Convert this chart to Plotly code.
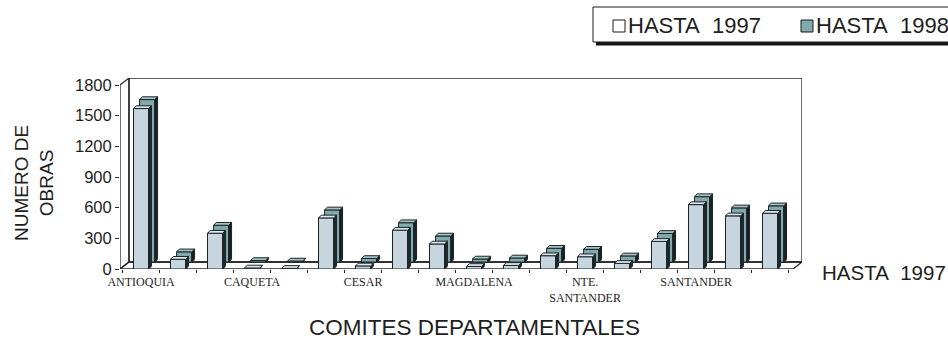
import plotly.graph_objects as go

# Obras por comité departamental (acumulado)
comites = ["ANTIOQUIA", "BOYACA", "CALDAS", "CAQUETA", "CASANARE", "CAUCA",
           "CESAR", "CUNDINAMARCA", "HUILA", "MAGDALENA", "META", "NARIÑO",
           "NTE.<br>SANTANDER", "QUINDIO", "RISARALDA", "SANTANDER", "TOLIMA", "VALLE"]
hasta_1997 = [1570, 95, 350, 10, 6, 500, 30, 380, 245, 25, 35, 130, 120, 55, 270, 630, 520, 545]
hasta_1998 = [1590, 100, 360, 15, 10, 510, 35, 385, 255, 30, 40, 135, 125, 60, 280, 640, 530, 550]
y_ticks = [0, 300, 600, 900, 1200, 1500, 1800]
label_step = 3

W, H = 948, 346
ML, MR, MT, MB = 120, 146, 78, 77

# pseudo-3D geometry (data units)
X_LO, X_HI = -0.57, 17.62          # front plane extent
WALL_DX, WALL_DY = 0.243, 68.5     # depth of the chart box
Y_TOP = 1800
BAR_W = 0.41
BOX_DX, BOX_DY = 0.075, 27         # depth of each column
ROW_DX, ROW_DY = 0.165, 68         # offset of the rear series

EDGE = "#1b2326"
FACE_97, TOP_97, SIDE_97 = "#c6d5de", "#dfe8ee", "#1d2a2d"
FACE_98, TOP_98, SIDE_98 = "#82a9ab", "#a6c4c5", "#162325"
TXT = "#1e1e1e"
SANS = "Liberation Sans, Arial, sans-serif"
SERIF = "Liberation Serif, Times New Roman, serif"

xs = list(range(len(comites)))


def px_x(px):
    return (px - ML) / (W - ML - MR)


def px_y(py):
    return (H - MB - py) / (H - MT - MB)


def column_traces(vals, dx0, dy0, face, top, side, name):
    bar = go.Bar(
        x=[x + dx0 for x in xs], y=vals, base=[dy0] * len(vals), width=BAR_W,
        marker=dict(color=face, line=dict(color=EDGE, width=1)),
        name=name, showlegend=False,
        customdata=[c.replace("<br>", " ") for c in comites],
        hovertemplate="%{customdata}<br>" + name + ": %{y}<extra></extra>",
    )
    sx, sy, tx, ty = [], [], [], []
    for x, v in zip(xs, vals):
        xl = x + dx0 - BAR_W / 2
        xr = x + dx0 + BAR_W / 2
        sx += [xr, xr + BOX_DX, xr + BOX_DX, xr, xr, None]
        sy += [dy0, dy0 + BOX_DY, dy0 + BOX_DY + v, dy0 + v, dy0, None]
        tx += [xl, xr, xr + BOX_DX, xl + BOX_DX, xl, None]
        ty += [dy0 + v, dy0 + v, dy0 + v + BOX_DY, dy0 + v + BOX_DY, dy0 + v, None]
    side_tr = go.Scatter(x=sx, y=sy, mode="lines", fill="toself", fillcolor=side,
                         line=dict(color=EDGE, width=1), hoverinfo="skip", showlegend=False)
    top_tr = go.Scatter(x=tx, y=ty, mode="lines", fill="toself", fillcolor=top,
                        line=dict(color=EDGE, width=1), hoverinfo="skip", showlegend=False)
    return [bar, side_tr, top_tr]


fig = go.Figure()
for tr in column_traces(hasta_1998, ROW_DX, ROW_DY, FACE_98, TOP_98, SIDE_98, "HASTA 1998"):
    fig.add_trace(tr)
for tr in column_traces(hasta_1997, 0, 0, FACE_97, TOP_97, SIDE_97, "HASTA 1997"):
    fig.add_trace(tr)

# chart box: left wall, back wall and floor
frame = dict(color="#262626", width=1.3)
walls = [
    f"M{X_LO},0 L{X_LO},{Y_TOP} L{X_LO + WALL_DX},{Y_TOP + WALL_DY} L{X_LO + WALL_DX},{WALL_DY} Z",
    f"M{X_LO + WALL_DX},{WALL_DY} L{X_LO + WALL_DX},{Y_TOP + WALL_DY} "
    f"L{X_HI + WALL_DX},{Y_TOP + WALL_DY} L{X_HI + WALL_DX},{WALL_DY} Z",
    f"M{X_LO},0 L{X_HI},0 L{X_HI + WALL_DX},{WALL_DY} L{X_LO + WALL_DX},{WALL_DY} Z",
]
shapes = [dict(type="path", path=p, xref="x", yref="y", line=frame,
               fillcolor="rgba(0,0,0,0)", layer="below") for p in walls]

# legend box with drop shadow, running past the right edge
shapes.append(dict(type="rect", xref="paper", yref="paper",
                   x0=px_x(596), x1=px_x(1010), y0=px_y(45.5), y1=px_y(10),
                   fillcolor="#151515", line=dict(width=0)))
shapes.append(dict(type="rect", xref="paper", yref="paper",
                   x0=px_x(593), x1=px_x(1005), y0=px_y(42), y1=px_y(7),
                   fillcolor="white", line=dict(color="#1a1a1a", width=1)))
shapes.append(dict(type="rect", xref="paper", yref="paper",
                   x0=px_x(613), x1=px_x(625), y0=px_y(32), y1=px_y(20),
                   fillcolor="white", line=dict(color="#1a1a1a", width=1)))
shapes.append(dict(type="rect", xref="paper", yref="paper",
                   x0=px_x(801), x1=px_x(813), y0=px_y(32), y1=px_y(20),
                   fillcolor=FACE_98, line=dict(color="#1a1a1a", width=1)))

annotations = [
    dict(text="HASTA\u00a0 1997", xref="paper", yref="paper", x=px_x(626), y=px_y(26),
         xanchor="left", yanchor="middle", showarrow=False, font=dict(family=SANS, size=22, color=TXT)),
    dict(text="HASTA\u00a0 1998", xref="paper", yref="paper", x=px_x(814), y=px_y(26),
         xanchor="left", yanchor="middle", showarrow=False, font=dict(family=SANS, size=22, color=TXT)),
    dict(text="HASTA\u00a0 1997", xref="paper", yref="paper", x=px_x(820), y=px_y(272),
         xanchor="left", yanchor="middle", showarrow=False, font=dict(family=SANS, size=20.5, color=TXT)),
    dict(text="NUMERO DE<br>OBRAS", xref="paper", yref="paper", x=px_x(34), y=px_y(183),
         xanchor="center", yanchor="middle", textangle=-90, showarrow=False,
         font=dict(family=SANS, size=19, color=TXT)),
    dict(text="COMITES DEPARTAMENTALES", xref="paper", yref="paper", x=px_x(474), y=px_y(327),
         xanchor="center", yanchor="middle", showarrow=False, font=dict(family=SANS, size=22.5, color=TXT)),
]

label_idx = xs[::label_step]
fig.update_layout(
    width=W, height=H,
    margin=dict(l=ML, r=MR, t=MT, b=MB, pad=0),
    paper_bgcolor="white", plot_bgcolor="white",
    barmode="overlay", showlegend=False,
    shapes=shapes, annotations=annotations,
    xaxis=dict(range=[X_LO, X_HI + WALL_DX], showgrid=False, zeroline=False, showline=False,
               tickmode="array", tickvals=label_idx, ticktext=[comites[i] for i in label_idx],
               ticks="", ticklabelstandoff=4, automargin=False,
               tickfont=dict(family=SERIF, size=12, color=TXT),
               minor=dict(tick0=-0.5, dtick=1, ticks="outside", ticklen=3,
                          tickcolor="#2a2a2a", showgrid=False)),
    yaxis=dict(range=[0, Y_TOP + WALL_DY + 0.5], showgrid=False, zeroline=False, showline=False,
               tickmode="array", tickvals=y_ticks, ticks="outside", ticklen=4,
               tickcolor="#2a2a2a", automargin=False,
               tickfont=dict(family=SANS, size=16.5, color=TXT)),
)

fig.write_html("out.html")
